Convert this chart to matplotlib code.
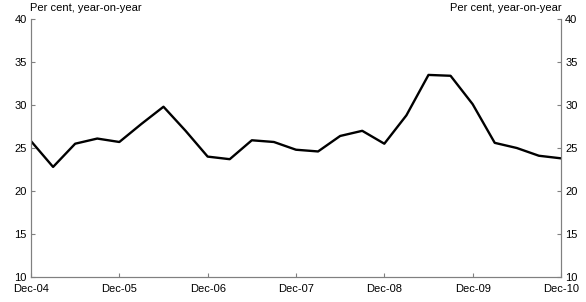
import matplotlib
matplotlib.use("Agg")
import matplotlib.pyplot as plt

plt.rcParams['font.family'] = ['Liberation Sans', 'DejaVu Sans']

# quarterly, Dec-04 .. Dec-10
values = [25.8, 22.8, 25.5, 26.1, 25.7, 27.8, 29.8, 27.0, 24.0, 23.7,
          25.9, 25.7, 24.8, 24.6, 26.4, 27.0, 25.5, 28.8, 33.5, 33.4,
          30.1, 25.6, 25.0, 24.1, 23.8]
tick_labels = ['Dec-04', 'Dec-05', 'Dec-06', 'Dec-07', 'Dec-08', 'Dec-09', 'Dec-10']
yticks = [10, 15, 20, 25, 30, 35, 40]
unit = 'Per cent, year-on-year'

grey = '#808080'

fig = plt.figure(figsize=(5.86, 3.02), dpi=100)
ax = fig.add_axes([0.0529, 0.0828, 0.9044, 0.8542])
ax.plot(range(len(values)), values, color='black', lw=1.7)
ax.set_xlim(0, len(values) - 1)
ax.set_ylim(10, 40)
ax.set_xticks(range(0, len(values), 4))
ax.set_xticklabels(tick_labels)
ax.set_yticks(yticks)

ax2 = ax.twinx()
ax2.set_ylim(10, 40)
ax2.set_yticks(yticks)

for a in (ax, ax2):
    for s in a.spines.values():
        s.set_color(grey)
    a.spines['top'].set_visible(False)
    a.tick_params(direction='in', length=3, color=grey, labelsize=8, pad=3)
ax.tick_params(axis='x', pad=5)

fig.text(0.0512, 0.99, unit, fontsize=8, ha='left', va='top')
fig.text(0.959, 0.99, unit, fontsize=8, ha='right', va='top')

fig.savefig('out.png', dpi=100)
